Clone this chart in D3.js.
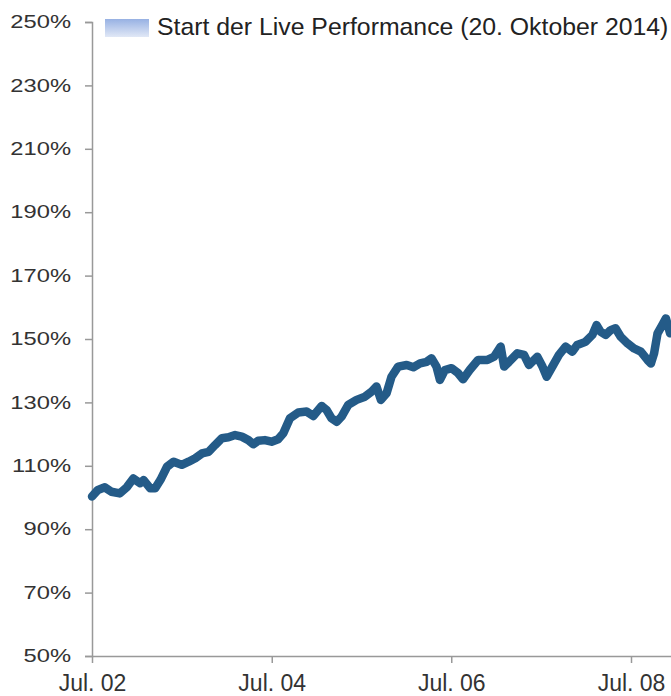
<!DOCTYPE html>
<html>
<head>
<meta charset="utf-8">
<script src="https://cdn.jsdelivr.net/npm/d3@7"></script>
<style>
  body { margin: 0; background: #fff; }
  svg { display: block; }
  .axis path, .axis line { stroke: #999; stroke-width: 1.5; }
  .axis text { fill: #333; font-family: "Liberation Sans", Arial, sans-serif; }
</style>
</head>
<body>
<div id="chart"></div>
<script>
// Series (index, 100% = Jul. 2002)
var dates = [
  "2002-07-01", "2002-07-25", "2002-08-22", "2002-09-18", "2002-10-22", "2002-11-19",
  "2002-12-16", "2003-01-13", "2003-01-27", "2003-02-23", "2003-03-15", "2003-04-05",
  "2003-05-02", "2003-05-29", "2003-07-01", "2003-07-29", "2003-08-25", "2003-09-21",
  "2003-10-18", "2003-11-14", "2003-12-11", "2004-01-07", "2004-02-03", "2004-03-01",
  "2004-03-28", "2004-04-17", "2004-05-07", "2004-06-03", "2004-06-30", "2004-07-27",
  "2004-08-17", "2004-09-13", "2004-10-17", "2004-11-20", "2004-12-17", "2005-01-20",
  "2005-02-09", "2005-03-01", "2005-03-22", "2005-04-11", "2005-05-08", "2005-06-11",
  "2005-07-15", "2005-08-11", "2005-08-31", "2005-09-18", "2005-10-11", "2005-10-31",
  "2005-11-27", "2006-01-01", "2006-01-28", "2006-02-24", "2006-03-23", "2006-04-12",
  "2006-05-02", "2006-05-16", "2006-06-05", "2006-07-02", "2006-07-29", "2006-08-18",
  "2006-09-14", "2006-10-18", "2006-11-25", "2006-12-22", "2007-01-18", "2007-02-01",
  "2007-02-21", "2007-03-27", "2007-04-23", "2007-05-13", "2007-06-16", "2007-07-07",
  "2007-07-24", "2007-08-16", "2007-09-12", "2007-10-09", "2007-11-05", "2007-11-25",
  "2007-12-29", "2008-01-26", "2008-02-12", "2008-02-28", "2008-03-20", "2008-04-09",
  "2008-04-29", "2008-05-20", "2008-06-17", "2008-07-14", "2008-08-10", "2008-09-06",
  "2008-09-20", "2008-10-03", "2008-10-17", "2008-11-05", "2008-11-20", "2008-12-07"
];
var values = [
  100.3, 102.4, 103.2, 101.8, 101.3, 103.2,
  106.0, 104.5, 105.5, 102.9, 102.9, 105.5,
  109.7, 111.3, 110.3, 111.3, 112.4, 113.9,
  114.4, 116.6, 118.7, 119.0, 119.7, 119.2,
  118.1, 116.8, 117.9, 118.1, 117.6, 118.4,
  120.3, 125.0, 126.8, 127.1, 125.7, 128.9,
  127.6, 125.0, 123.9, 125.5, 129.2, 130.8,
  131.8, 133.4, 135.0, 130.8, 132.9, 138.1,
  141.3, 141.8, 141.1, 142.3, 142.8, 143.9,
  141.3, 137.1, 140.2, 140.8, 139.2, 137.3,
  140.2, 143.4, 143.4, 144.4, 147.6, 141.3,
  142.8, 145.5, 145.0, 141.8, 144.4, 141.3,
  138.1, 141.3, 145.0, 147.6, 146.0, 148.1,
  149.1, 151.3, 154.4, 152.3, 151.3, 152.8,
  153.4, 150.7, 148.6, 147.0, 146.0, 143.4,
  142.3, 145.5, 151.8, 154.4, 156.5, 151.8
];
var yTicks = [50, 70, 90, 110, 130, 150, 170, 190, 210, 230, 250];
var xTicks = ["2002-07-01", "2004-07-01", "2006-07-01", "2008-07-01"];
var legendLabel = "Start der Live Performance (20. Oktober 2014)";

var svgWidth = 671;
var svgHeight = 696;

var parseDate = d3.timeParse("%Y-%m-%d");
var data = dates.map(function(d, i) {
  return { date: parseDate(d), value: values[i] };
});

var svg = d3.select("#chart")
  .append("svg")
  .attr("width", svgWidth)
  .attr("height", svgHeight);

// x scale: Jul. 02 -> 92px, Jul. 08 -> 631px, axis runs on to the right edge
var xScale = d3.scaleTime()
  .domain([parseDate("2002-07-01"), parseDate("2008-07-01")])
  .range([92, 631]);
xScale.domain([xScale.domain()[0], xScale.invert(svgWidth)]).range([92, svgWidth]);

var yScale = d3.scaleLinear()
  .domain([50, 250])
  .range([656, 22]);

// y axis
var stretch = 1.32;
var yAxis = svg.append("g")
  .attr("class", "axis")
  .attr("transform", "translate(92,0)")
  .call(d3.axisLeft(yScale)
    .tickValues(yTicks)
    .tickSize(7)
    .tickPadding(14)
    .tickFormat(function(d) { return d + "%"; }));
yAxis.selectAll("text")
  .attr("font-size", 18)
  .attr("x", -21 / stretch)
  .attr("transform", "scale(" + stretch + ",1)");

// x axis
var fmtYear = d3.timeFormat("%y");
var xAxis = svg.append("g")
  .attr("class", "axis")
  .attr("transform", "translate(0,656)")
  .call(d3.axisBottom(xScale)
    .tickValues(xTicks.map(parseDate))
    .tickSize(7)
    .tickSizeOuter(0)
    .tickPadding(12)
    .tickFormat(function(d) { return "Jul. " + fmtYear(d); }));
xAxis.selectAll("text").attr("font-size", 23);

// performance line
var line = d3.line()
  .x(function(d) { return xScale(d.date); })
  .y(function(d) { return yScale(d.value); })
  .curve(d3.curveLinear);

svg.append("path")
  .datum(data)
  .attr("fill", "none")
  .attr("stroke", "#245b88")
  .attr("stroke-width", 8.5)
  .attr("stroke-linejoin", "round")
  .attr("stroke-linecap", "round")
  .attr("d", line);

// legend
var grad = svg.append("defs").append("linearGradient")
  .attr("id", "legendGrad")
  .attr("x1", 0).attr("y1", 0).attr("x2", 0).attr("y2", 1);
grad.append("stop").attr("offset", "0%").attr("stop-color", "#97b1e3");
grad.append("stop").attr("offset", "100%").attr("stop-color", "#e1e8f6");

svg.append("rect")
  .attr("x", 105)
  .attr("y", 19)
  .attr("width", 44)
  .attr("height", 18)
  .attr("fill", "url(#legendGrad)");

svg.append("text")
  .attr("x", 157)
  .attr("y", 35)
  .attr("font-family", "Liberation Sans, Arial, sans-serif")
  .attr("font-size", 24.8)
  .attr("fill", "#222")
  .text(legendLabel);
</script>
</body>
</html>
